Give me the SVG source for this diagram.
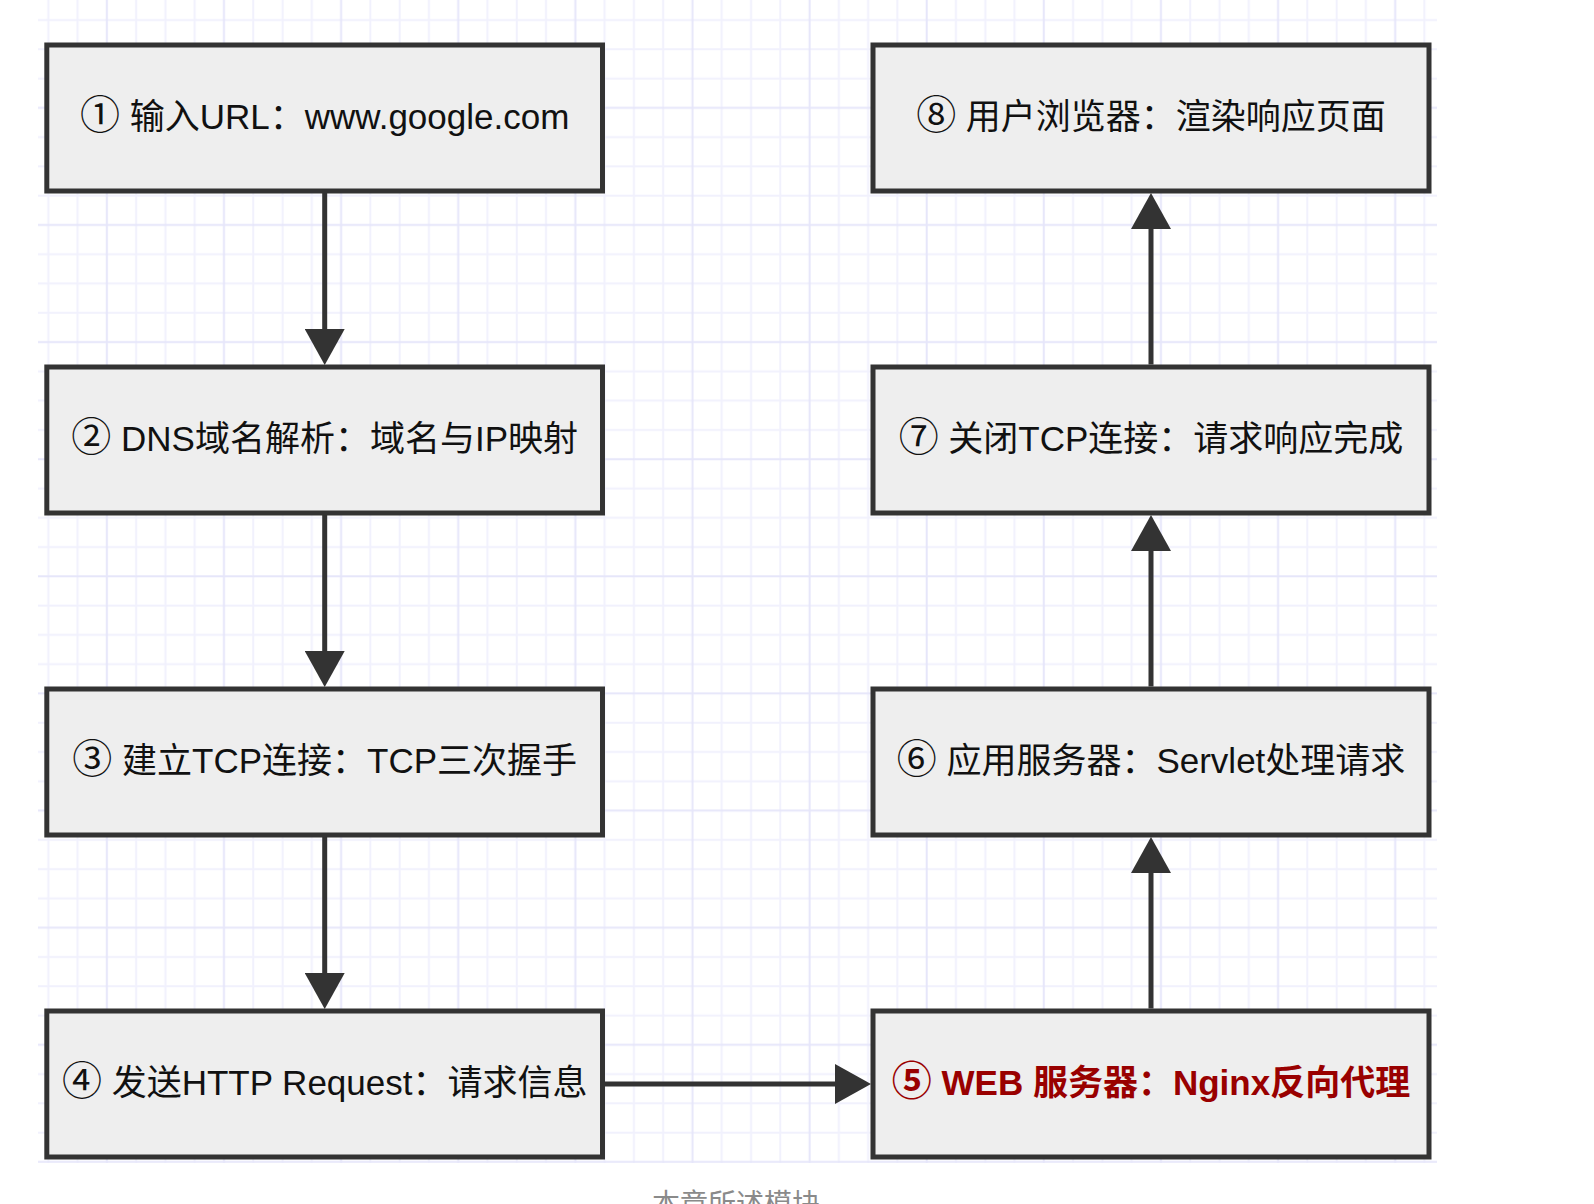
<svg xmlns="http://www.w3.org/2000/svg" width="1594" height="1204" viewBox="0 0 1594 1204">
<style>
.box{fill:#eeeeee;stroke:#333333;stroke-width:5}
.lbl{font-family:"Liberation Sans","Noto Sans CJK SC",sans-serif;font-size:35px;fill:#111111;text-anchor:middle}
.num{font-size:40px}
.red{fill:#990000;font-weight:bold}
.edge{stroke:#333333;stroke-width:5;fill:none}
.cap{font-family:"Liberation Sans","Noto Sans CJK SC",sans-serif;font-size:28px;fill:#8a8a8a;text-anchor:middle}
</style>
<defs>
<pattern id="grid" patternUnits="userSpaceOnUse" x="33.66" y="5.36" width="117.12" height="117.12">
<g stroke="#f1f1fd" stroke-width="2">
<line x1="14.64" y1="0" x2="14.64" y2="117.12"/>
<line x1="43.92" y1="0" x2="43.92" y2="117.12"/>
<line x1="102.48" y1="0" x2="102.48" y2="117.12"/>
<line x1="0" y1="14.64" x2="117.12" y2="14.64"/>
<line x1="0" y1="43.92" x2="117.12" y2="43.92"/>
<line x1="0" y1="73.2" x2="117.12" y2="73.2"/>
</g>
<g stroke="#e6e6fa" stroke-width="2">
<line x1="73.2" y1="0" x2="73.2" y2="117.12"/>
<line x1="0" y1="102.48" x2="117.12" y2="102.48"/>
</g>
</pattern>
<marker id="arr" markerUnits="userSpaceOnUse" markerWidth="36" markerHeight="40" viewBox="0 0 36 40" refX="1" refY="20" orient="auto">
<path d="M0,0 L36,20 L0,40 Z" fill="#333333"/>
</marker>
</defs>
<rect x="0" y="0" width="1594" height="1204" fill="#ffffff"/>
<rect x="38" y="0" width="1399" height="1163" fill="url(#grid)"/>

<g id="connectors">
<path class="edge" d="M324.7,193 L324.7,330" marker-end="url(#arr)"/>
<path class="edge" d="M324.7,515 L324.7,652" marker-end="url(#arr)"/>
<path class="edge" d="M324.7,837 L324.7,974" marker-end="url(#arr)"/>
<path class="edge" d="M605,1084 L836,1084" marker-end="url(#arr)"/>
<path class="edge" d="M1151,1008.5 L1151,872" marker-end="url(#arr)"/>
<path class="edge" d="M1151,686.5 L1151,550" marker-end="url(#arr)"/>
<path class="edge" d="M1151,364.5 L1151,228" marker-end="url(#arr)"/>
</g>

<g id="node1"><rect class="box" x="46.8" y="45" width="555.7" height="146"/><text class="lbl" x="324.7" y="129"><tspan class="num">①</tspan> 输入URL：www.google.com</text></g>
<g id="node2"><rect class="box" x="46.8" y="367" width="555.7" height="146"/><text class="lbl" x="324.7" y="451"><tspan class="num">②</tspan> DNS域名解析：域名与IP映射</text></g>
<g id="node3"><rect class="box" x="46.8" y="689" width="555.7" height="146"/><text class="lbl" x="324.7" y="773"><tspan class="num">③</tspan> 建立TCP连接：TCP三次握手</text></g>
<g id="node4"><rect class="box" x="46.8" y="1011" width="555.7" height="146"/><text class="lbl" x="324.7" y="1095"><tspan class="num">④</tspan> 发送HTTP Request：请求信息</text></g>
<g id="node5"><rect class="box" x="873" y="1011" width="556" height="146"/><text class="lbl red" x="1151" y="1095"><tspan class="num">⑤</tspan> WEB 服务器：Nginx反向代理</text></g>
<g id="node6"><rect class="box" x="873" y="689" width="556" height="146"/><text class="lbl" x="1151" y="773"><tspan class="num">⑥</tspan> 应用服务器：Servlet处理请求</text></g>
<g id="node7"><rect class="box" x="873" y="367" width="556" height="146"/><text class="lbl" x="1151" y="451"><tspan class="num">⑦</tspan> 关闭TCP连接：请求响应完成</text></g>
<g id="node8"><rect class="box" x="873" y="45" width="556" height="146"/><text class="lbl" x="1151" y="129"><tspan class="num">⑧</tspan> 用户浏览器：渲染响应页面</text></g>

<text class="cap" x="736" y="1214">本章所述模块</text>
</svg>
